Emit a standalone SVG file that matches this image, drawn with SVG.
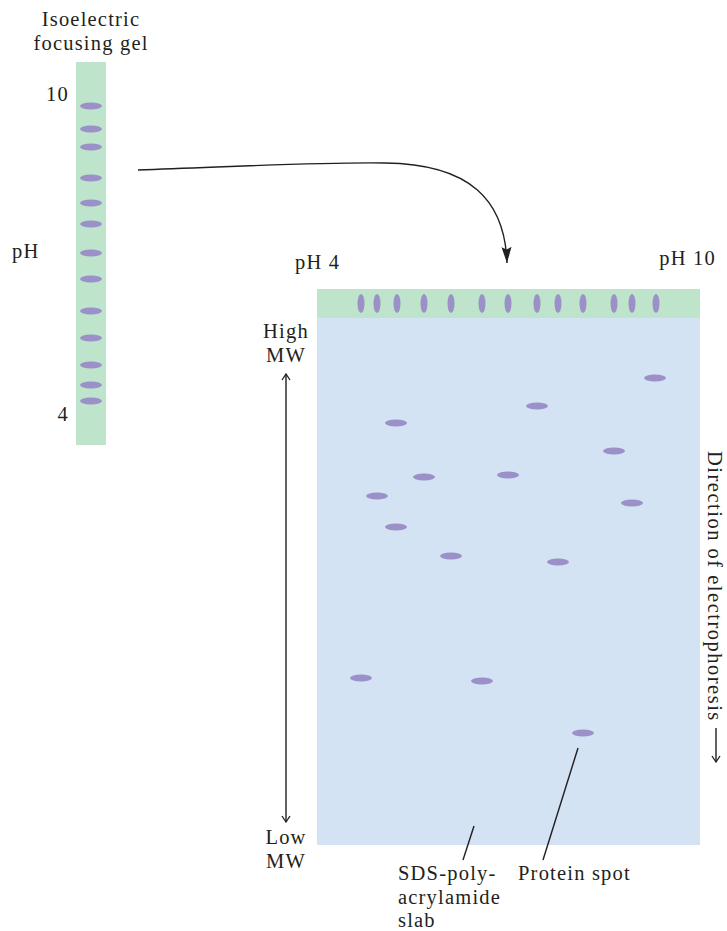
<svg xmlns="http://www.w3.org/2000/svg" width="727" height="931" viewBox="0 0 727 931">
<defs>
<style>
text{font-family:"Liberation Serif","Times New Roman",serif;font-size:20.5px;fill:#231f20;letter-spacing:1.2px}
.band{fill:#9b90c8}
.ln{stroke:#231f20;stroke-width:1.4;fill:none}
</style>
<marker id="ah" markerWidth="16" markerHeight="10" refX="16" refY="5" orient="auto" markerUnits="userSpaceOnUse" viewBox="0 0 16 10">
<path d="M0,0 L2.5,5 L0,10 L16,5 Z" fill="#231f20"/>
</marker>
<marker id="sa" markerWidth="10" markerHeight="10" refX="9" refY="5" orient="auto-start-reverse" markerUnits="userSpaceOnUse" viewBox="0 0 10 10">
<path d="M3,1 L9,5 L3,9" fill="none" stroke="#231f20" stroke-width="1.3"/>
</marker>
</defs>
<rect width="727" height="931" fill="#fff"/>

<g id="ief-gel">
<rect x="76" y="62" width="30" height="383" fill="#bfe4cc"/>
<g class="band">
<ellipse cx="91" cy="106" rx="11" ry="3.5"/>
<ellipse cx="91" cy="129" rx="11" ry="3.5"/>
<ellipse cx="91" cy="147" rx="11" ry="3.5"/>
<ellipse cx="91" cy="178" rx="11" ry="3.5"/>
<ellipse cx="91" cy="203" rx="11" ry="3.5"/>
<ellipse cx="91" cy="224" rx="11" ry="3.5"/>
<ellipse cx="91" cy="253" rx="11" ry="3.5"/>
<ellipse cx="91" cy="279" rx="11" ry="3.5"/>
<ellipse cx="91" cy="311" rx="11" ry="3.5"/>
<ellipse cx="91" cy="338" rx="11" ry="3.5"/>
<ellipse cx="91" cy="365" rx="11" ry="3.5"/>
<ellipse cx="91" cy="385" rx="11" ry="3.5"/>
<ellipse cx="91" cy="401" rx="11" ry="3.5"/>
</g>
<text x="91" y="26" text-anchor="middle">Isoelectric</text>
<text x="91" y="50" text-anchor="middle">focusing gel</text>
<text x="69" y="101" text-anchor="end">10</text>
<text x="12" y="258">pH</text>
<text x="69" y="421" text-anchor="end">4</text>
</g>

<g id="sds-slab">
<rect x="317" y="318" width="383" height="527" fill="#d4e3f3"/>
<rect x="317" y="289" width="383" height="29" fill="#bfe4cc"/>
<g class="band">
<ellipse cx="361" cy="303.5" rx="3.5" ry="9.5"/>
<ellipse cx="377" cy="303.5" rx="3.5" ry="9.5"/>
<ellipse cx="397" cy="303.5" rx="3.5" ry="9.5"/>
<ellipse cx="424" cy="303.5" rx="3.5" ry="9.5"/>
<ellipse cx="451" cy="303.5" rx="3.5" ry="9.5"/>
<ellipse cx="482" cy="303.5" rx="3.5" ry="9.5"/>
<ellipse cx="508" cy="303.5" rx="3.5" ry="9.5"/>
<ellipse cx="537" cy="303.5" rx="3.5" ry="9.5"/>
<ellipse cx="558" cy="303.5" rx="3.5" ry="9.5"/>
<ellipse cx="583" cy="303.5" rx="3.5" ry="9.5"/>
<ellipse cx="614" cy="303.5" rx="3.5" ry="9.5"/>
<ellipse cx="632" cy="303.5" rx="3.5" ry="9.5"/>
<ellipse cx="656" cy="303.5" rx="3.5" ry="9.5"/>
<ellipse cx="655" cy="378" rx="11" ry="3.5"/>
<ellipse cx="537" cy="406" rx="11" ry="3.5"/>
<ellipse cx="396" cy="423" rx="11" ry="3.5"/>
<ellipse cx="614" cy="451" rx="11" ry="3.5"/>
<ellipse cx="424" cy="477" rx="11" ry="3.5"/>
<ellipse cx="508" cy="475" rx="11" ry="3.5"/>
<ellipse cx="377" cy="496" rx="11" ry="3.5"/>
<ellipse cx="632" cy="503" rx="11" ry="3.5"/>
<ellipse cx="396" cy="527" rx="11" ry="3.5"/>
<ellipse cx="451" cy="556" rx="11" ry="3.5"/>
<ellipse cx="558" cy="562" rx="11" ry="3.5"/>
<ellipse cx="361" cy="678" rx="11" ry="3.5"/>
<ellipse cx="482" cy="681" rx="11" ry="3.5"/>
<ellipse cx="583" cy="733" rx="11" ry="3.5"/>
</g>
<text x="295" y="269">pH 4</text>
<text x="716" y="265" text-anchor="end">pH 10</text>
<text x="286" y="338" text-anchor="middle">High</text>
<text x="286" y="362" text-anchor="middle">MW</text>
<text x="286" y="844" text-anchor="middle">Low</text>
<text x="286" y="868" text-anchor="middle">MW</text>
<text x="398" y="880">SDS-poly-</text>
<text x="398" y="904">acrylamide</text>
<text x="398" y="927">slab</text>
<text x="518" y="880">Protein spot</text>
<text transform="translate(708,451) rotate(90)" style="letter-spacing:1.5px">Direction of electrophoresis</text>
</g>

<g id="connectors">
<path class="ln" d="M138,170 C250,166 320,162 385,163 C470,164 505,200 507,263" marker-end="url(#ah)"/>
<line class="ln" x1="286" y1="374" x2="286" y2="822" marker-start="url(#sa)" marker-end="url(#sa)"/>
<line class="ln" x1="474" y1="826" x2="463" y2="860"/>
<line class="ln" x1="578" y1="748" x2="543" y2="860"/>
<line class="ln" x1="716" y1="728" x2="716" y2="762" marker-end="url(#sa)"/>
</g>
</svg>
